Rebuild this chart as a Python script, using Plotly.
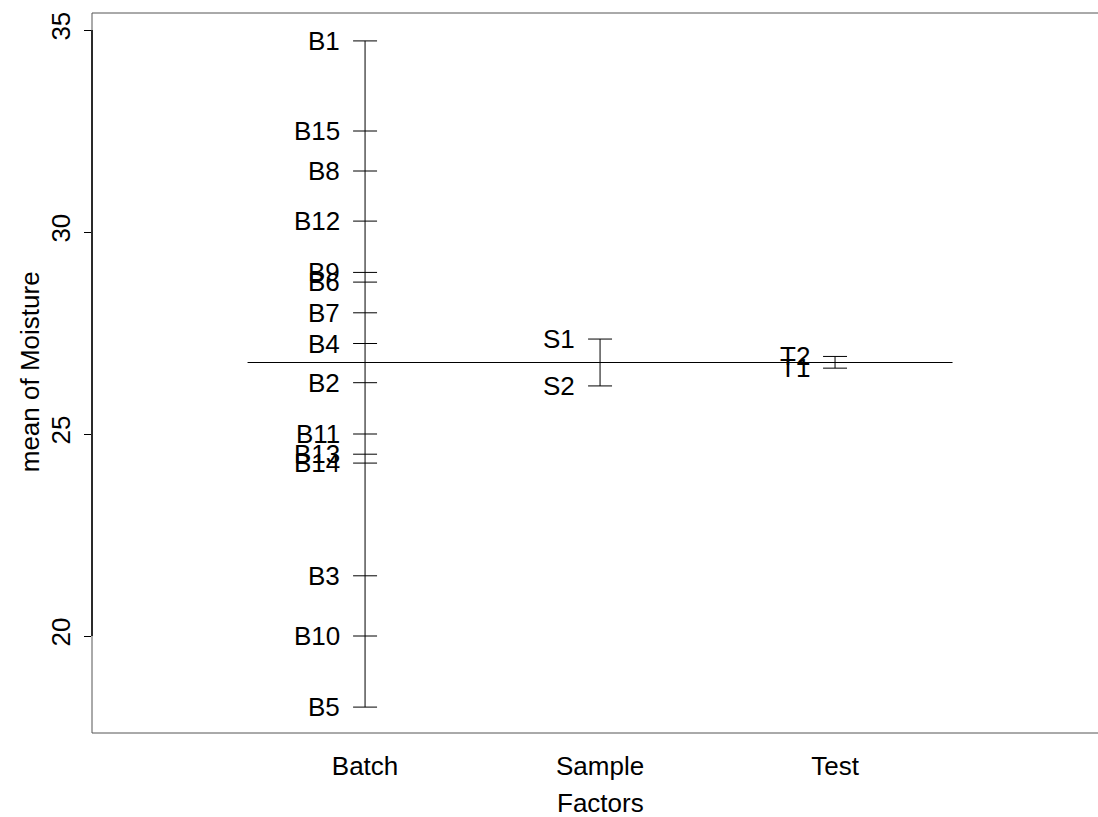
import plotly.graph_objects as go

# ---- data ----
factors = ["Batch", "Sample", "Test"]
batch_levels = ["B1", "B15", "B8", "B12", "B9", "B6", "B7", "B4", "B2",
                "B11", "B13", "B14", "B3", "B10", "B5"]
batch_means = [34.73, 32.50, 31.51, 30.27, 29.00, 28.76, 28.00, 27.24, 26.27,
               25.00, 24.50, 24.28, 21.49, 20.00, 18.24]
sample_levels = ["S1", "S2"]
sample_means = [27.35, 26.19]
test_levels = ["T2", "T1"]
test_means = [26.92, 26.63]
grand_mean = 26.77
y_ticks = [20, 25, 30, 35]

groups = [(batch_levels, batch_means), (sample_levels, sample_means),
          (test_levels, test_means)]

FONT = "Liberation Sans, Arial, sans-serif"
FS = 26
W, H = 1098, 817
ML, MR, MT, MB = 92, 0, 13, 84
PW = W - ML - MR
PH = H - MT - MB

fig = go.Figure()
half = 0.051
annotations = []
for i, (levels, means) in enumerate(groups, start=1):
    fig.add_trace(go.Scatter(x=[i, i], y=[min(means), max(means)], mode="lines",
                             line=dict(color="black", width=1), hoverinfo="skip",
                             showlegend=False))
    xs, ys = [], []
    for lv, m in zip(levels, means):
        xs += [i - half, i + half, None]
        ys += [m, m, None]
        annotations.append(dict(x=i - 0.1, y=m, xref="x", yref="y", text=lv,
                                showarrow=False, xanchor="right", yanchor="middle",
                                font=dict(family=FONT, size=FS, color="black")))
    fig.add_trace(go.Scatter(x=xs, y=ys, mode="lines",
                             line=dict(color="black", width=1), hoverinfo="skip",
                             showlegend=False))

# grand mean line
fig.add_trace(go.Scatter(x=[0.5, len(factors) + 0.5], y=[grand_mean, grand_mean],
                         mode="lines", line=dict(color="black", width=1),
                         hoverinfo="skip", showlegend=False))

# axis titles
annotations.append(dict(x=(30 - ML) / PW, y=0.501, xref="paper", yref="paper",
                        text="mean of Moisture", textangle=-90, showarrow=False,
                        xanchor="center", yanchor="middle",
                        font=dict(family=FONT, size=FS, color="black")))
annotations.append(dict(x=(600 - ML) / PW, y=-(803 - 733) / PH,
                        xref="paper", yref="paper", text="Factors", showarrow=False,
                        xanchor="center", yanchor="middle",
                        font=dict(family=FONT, size=FS, color="black")))

box_col = "#555"
shapes = [
    dict(type="line", xref="paper", yref="paper", x0=0, x1=1, y0=1, y1=1,
         line=dict(color=box_col, width=1)),
    dict(type="line", xref="paper", yref="paper", x0=0, x1=1, y0=0, y1=0,
         line=dict(color=box_col, width=1)),
    dict(type="line", xref="paper", yref="paper", x0=0, x1=0, y0=0, y1=1,
         line=dict(color=box_col, width=1)),
    # left axis line segment (20..35)
    dict(type="line", xref="paper", yref="y", x0=0, x1=0,
         y0=min(y_ticks), y1=max(y_ticks), line=dict(color="black", width=1.5)),
]

fig.update_layout(
    width=W, height=H,
    margin=dict(l=ML, r=MR, t=MT, b=MB),
    paper_bgcolor="white", plot_bgcolor="white",
    font=dict(family=FONT, size=FS, color="black"),
    annotations=annotations, shapes=shapes,
    xaxis=dict(range=[-0.162, 4.119], tickvals=[1, 2, 3], ticktext=factors,
               showgrid=False, zeroline=False, ticks="", showline=False,
               ticklabelstandoff=15,
               tickfont=dict(family=FONT, size=FS, color="black")),
    yaxis=dict(range=[17.599, 35.421], tickvals=y_ticks, tickangle=-90,
               showgrid=False, zeroline=False, ticks="outside", ticklen=7,
               tickcolor="black", showline=False, ticklabelstandoff=4,
               tickfont=dict(family=FONT, size=FS, color="black")),
)

fig.write_html("out.html", config={"displayModeBar": False},
               post_script="document.body.style.margin='0px';"
                           "document.body.style.overflow='hidden';")
